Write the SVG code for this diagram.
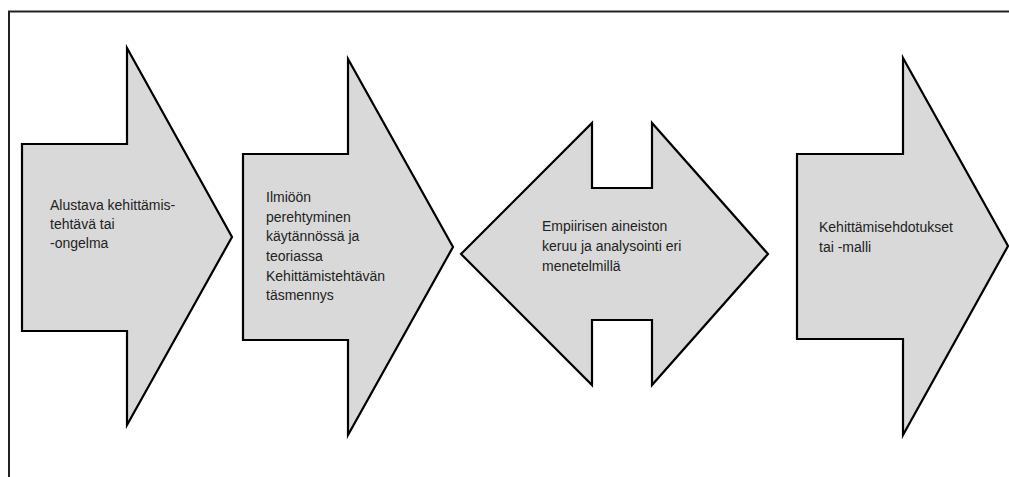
<svg xmlns="http://www.w3.org/2000/svg" width="1009" height="477" viewBox="0 0 1009 477">
  <style>
    .shape { fill: #d9d9d9; stroke: #000; stroke-width: 2.2; stroke-linejoin: miter; }
    .label { font-family: "Liberation Sans", Arial, sans-serif; font-size: 14px; fill: #222; }
    .frame { fill: none; stroke: #222; stroke-width: 2; }
  </style>
  <rect width="1009" height="477" fill="#fff"/>
  <!-- outer frame, open at right and bottom -->
  <path class="frame" d="M9,477 V11.5 H1009"/>

  <g id="step1">
    <polygon class="shape" points="22,144 127,144 127,48 232,237 127,425 127,331 22,331"/>
    <text class="label" x="50" y="210">Alustava kehittämis-</text>
    <text class="label" x="50" y="229">tehtävä tai</text>
    <text class="label" x="50" y="248">-ongelma</text>
  </g>

  <g id="step2">
    <polygon class="shape" points="243,154 348,154 348,59 453,247 348,435 348,340 243,340"/>
    <text class="label" x="266" y="202">Ilmiöön</text>
    <text class="label" x="266" y="222">perehtyminen</text>
    <text class="label" x="266" y="241">käytännössä ja</text>
    <text class="label" x="266" y="261">teoriassa</text>
    <text class="label" x="266" y="281">Kehittämistehtävän</text>
    <text class="label" x="266" y="300">täsmennys</text>
  </g>

  <g id="step3">
    <polygon class="shape" points="461,254 592,123 592,188 652,188 652,123 768,254 652,385 652,320 592,320 592,385"/>
    <text class="label" x="542" y="231">Empiirisen aineiston</text>
    <text class="label" x="542" y="251">keruu ja analysointi eri</text>
    <text class="label" x="542" y="271">menetelmillä</text>
  </g>

  <g id="step4">
    <polygon class="shape" points="797,154 903,154 903,58 1008,246 903,435 903,339 797,339"/>
    <text class="label" x="819" y="232">Kehittämisehdotukset</text>
    <text class="label" x="819" y="252">tai -malli</text>
  </g>

  <g id="connectors"></g>
</svg>
